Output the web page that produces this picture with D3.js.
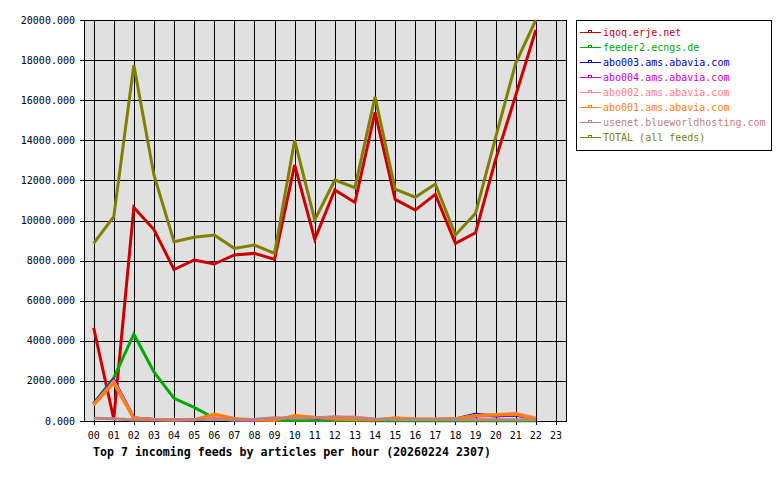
<!DOCTYPE html>
<html>
<head>
<meta charset="utf-8">
<script src="https://cdn.jsdelivr.net/npm/d3@7"></script>
<style>
  body { margin: 0; background: #fff; }
  text { font-family: "DejaVu Sans Mono", monospace; }
</style>
</head>
<body>
<svg id="chart" width="780" height="480"></svg>
<script>
'use strict';

// hour labels on the x axis (data runs 00..22)
let hours = d3.range(24).map(h => (h < 10 ? "0" : "") + h);
let yTicks = d3.range(0, 20001, 2000);

let feedNames = [
    "iqoq.erje.net",
    "feeder2.ecngs.de",
    "abo003.ams.abavia.com",
    "abo004.ams.abavia.com",
    "abo002.ams.abavia.com",
    "abo001.ams.abavia.com",
    "usenet.blueworldhosting.com",
    "TOTAL (all feeds)"
];
let feedColors = ["#cc0000", "#00aa00", "#0000cc", "#cc00cc", "#ff8080", "#ff8000", "#c08080", "#808000"];

let iqoq     = [4650, 100, 10650, 9550, 7550, 8030, 7830, 8280, 8360, 8060, 12770, 9060, 11520, 10900, 15400, 11050, 10520, 11300, 8860, 9390, 13050, 16250, 19500];
let feeder2  = [880, 2150, 4330, 2450, 1130, 680, 150, 30, 20, 20, 30, 30, 20, 20, 10, 10, 10, 10, 10, 10, 10, 10, 10];
let abo003   = [850, 2050, 150, 80, 60, 60, 150, 60, 40, 60, 200, 150, 100, 80, 60, 100, 80, 80, 100, 330, 250, 300, 100];
let abo004   = [830, 2000, 150, 80, 60, 60, 200, 50, 40, 60, 200, 150, 100, 80, 60, 100, 80, 80, 100, 250, 280, 330, 100];
let abo002   = [820, 1980, 150, 80, 60, 60, 250, 60, 50, 80, 220, 180, 180, 200, 80, 120, 90, 90, 100, 270, 330, 380, 150];
let abo001   = [800, 1880, 120, 70, 50, 60, 350, 130, 60, 30, 270, 190, 90, 80, 50, 160, 100, 100, 100, 270, 300, 330, 100];
let usenet   = [140, 110, 50, 50, 50, 90, 90, 60, 90, 160, 140, 150, 210, 160, 100, 70, 70, 70, 60, 60, 60, 60, 60];
let total    = [8860, 10190, 17750, 12270, 8940, 9160, 9280, 8610, 8780, 8360, 14000, 10030, 12020, 11640, 16170, 11560, 11160, 11820, 9280, 10360, 14150, 17850, 20000];

let series = [iqoq, feeder2, abo003, abo004, abo002, abo001, usenet, total];

function getChartConfig() {
    let plot = { left: 83.6, right: 566, top: 20, bottom: 421 };
    let svg = d3.select("#chart");
    return { svg, plot };
}

function getScales(config) {
    let { plot } = config;
    let xScale = d3.scalePoint()
        .domain(hours)
        .range([plot.left, plot.right])
        .padding(0.5);
    let yScale = d3.scaleLinear()
        .domain([0, 20000])
        .range([plot.bottom, plot.top]);
    return { xScale, yScale };
}

function drawGrid(config, scales) {
    let { svg, plot } = config;
    let { xScale, yScale } = scales;

    svg.append("rect")
        .attr("x", Math.round(plot.left) + 0.5)
        .attr("y", plot.top + 0.5)
        .attr("width", Math.round(plot.right - plot.left))
        .attr("height", plot.bottom - plot.top)
        .attr("fill", "#e0e0e0")
        .attr("stroke", "#000");

    // vertical grid lines reach 4px below the plot as ticks
    svg.append("g").selectAll("line")
        .data(hours)
        .enter().append("line")
        .attr("x1", d => Math.round(xScale(d)) + 0.5)
        .attr("x2", d => Math.round(xScale(d)) + 0.5)
        .attr("y1", plot.top)
        .attr("y2", plot.bottom + 4)
        .attr("stroke", "#000")
        .attr("shape-rendering", "crispEdges");

    svg.append("g").selectAll("line")
        .data(yTicks)
        .enter().append("line")
        .attr("x1", plot.left - 4)
        .attr("x2", plot.right)
        .attr("y1", d => Math.round(yScale(d)) + 0.5)
        .attr("y2", d => Math.round(yScale(d)) + 0.5)
        .attr("stroke", "#000")
        .attr("shape-rendering", "crispEdges");
}

function drawAxes(config, scales) {
    let { svg, plot } = config;
    let { xScale, yScale } = scales;

    svg.append("g").selectAll("text")
        .data(yTicks)
        .enter().append("text")
        .attr("x", 75)
        .attr("y", d => yScale(d) + 3.5)
        .attr("text-anchor", "end")
        .style("font-size", "10px")
        .text(d => d3.format(".3f")(d));

    svg.append("g").selectAll("text")
        .data(hours)
        .enter().append("text")
        .attr("x", d => xScale(d))
        .attr("y", 438.5)
        .attr("text-anchor", "middle")
        .style("font-size", "10px")
        .text(d => d);

    svg.append("text")
        .attr("x", 93)
        .attr("y", 456)
        .style("font-size", "11.6px")
        .style("font-weight", "bold")
        .text("Top 7 incoming feeds by articles per hour (20260224 2307)");
}

function drawLines(config, scales) {
    let { svg } = config;
    let { xScale, yScale } = scales;

    let line = d3.line()
        .x((d, i) => xScale(hours[i]))
        .y(d => yScale(d));

    svg.append("g").selectAll("path")
        .data(series)
        .enter().append("path")
        .attr("d", d => line(d))
        .attr("fill", "none")
        .attr("stroke", (d, i) => feedColors[i])
        .attr("stroke-width", 3)
        .attr("stroke-linejoin", "miter");
}

function drawLegend(config) {
    let { svg } = config;

    svg.append("rect")
        .attr("x", 576.5)
        .attr("y", 20.5)
        .attr("width", 195)
        .attr("height", 130)
        .attr("fill", "#fff")
        .attr("stroke", "#000");

    let item = svg.append("g").selectAll("g")
        .data(feedNames)
        .enter().append("g")
        .attr("transform", (d, i) => "translate(0," + (32.5 + i * 15) + ")");

    item.append("line")
        .attr("x1", 580)
        .attr("x2", 601)
        .attr("stroke", (d, i) => feedColors[i])
        .attr("shape-rendering", "crispEdges");

    item.append("rect")
        .attr("x", 588.5)
        .attr("y", -2)
        .attr("width", 3)
        .attr("height", 2)
        .attr("fill", "none")
        .attr("stroke", (d, i) => feedColors[i])
        .attr("shape-rendering", "crispEdges");

    item.append("text")
        .attr("x", 603)
        .attr("y", 3.5)
        .style("font-size", "10px")
        .attr("fill", (d, i) => feedColors[i])
        .text(d => d);
}

function drawChart() {
    let config = getChartConfig();
    let scales = getScales(config);
    drawGrid(config, scales);
    drawLines(config, scales);
    drawAxes(config, scales);
    drawLegend(config);
}

drawChart();
</script>
</body>
</html>
